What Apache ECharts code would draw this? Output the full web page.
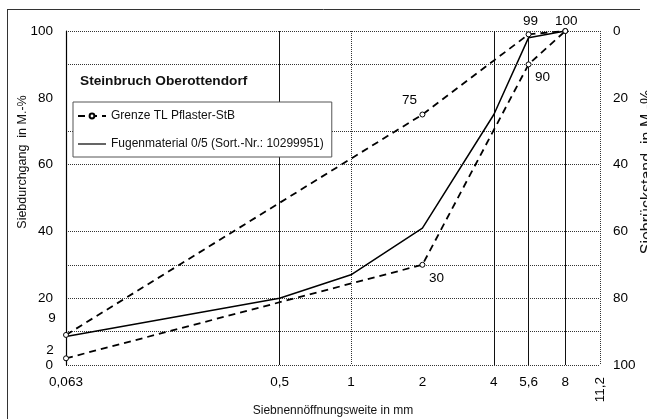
<!DOCTYPE html>
<html><head><meta charset="utf-8">
<script src="https://cdn.jsdelivr.net/npm/echarts@6/dist/echarts.min.js"></script>
<style>html,body{margin:0;padding:0;background:#fff}#c{width:647px;height:419px}</style>
</head><body><div id="c"></div>
<script>
// ---- data ----
const seriesNames = ['Grenze TL Pflaster-StB', 'Fugenmaterial 0/5 (Sort.-Nr.: 10299951)'];
const sieveSizes = [0.063, 0.5, 1, 2, 4, 5.6, 8];
const materialPassing = [8.5, 20, 27, 41, 75, 98, 100];
const limitSizes = [0.063, 2, 5.6, 8];
const upperLimit = [9, 75, 99, 100];
const lowerLimit = [2, 30, 90, 100];
const xLabelValues = [0.063, 0.5, 1, 2, 4, 5.6, 8];
const xLabelTexts = ['0,063', '0,5', '1', '2', '4', '5,6', '8'];
const xEndValues = [11.2];
const xEndTexts = ['11,2'];
const xSolidLines = [0.5, 4, 5.6, 8];
const xDottedLines = [1, 11.2];
const yLabelValues = [0, 20, 40, 60, 80, 100];
const yGridValues = [0, 10, 20, 30, 40, 60, 70, 90, 100];
const lowerLabelShown = [true, true, true, false];

// ---- styles ----
const FONT = "'Liberation Sans', Arial, sans-serif";
const upperOffsets = [[-14, -17], [-13, -14], [2, -13], [1, -10]];
const lowerOffsets = [[-16, -8], [14, 13], [14, 13], [0, 0]];

function nearestText(v, vals, texts) {
  let best = 0, bd = Infinity;
  vals.forEach((x, i) => { const d = Math.abs(Math.log(v) - Math.log(x)); if (d < bd) { bd = d; best = i; } });
  return texts[best];
}

function limitData(ys, offsets, shown) {
  return limitSizes.map((x, i) => ({
    value: [x, ys[i]],
    label: { show: shown ? shown[i] : true, position: 'inside', offset: offsets[i] }
  }));
}

const labelStyle = { color: '#000', fontSize: 13.5, fontFamily: FONT };

const chart = echarts.init(document.getElementById('c'), null, { renderer: 'canvas' });
chart.setOption({
  animation: false,
  backgroundColor: '#fff',
  grid: { left: 66, right: 47, top: 31, bottom: 54, containLabel: false, outerBoundsMode: 'none' },
  title: {
    text: 'Steinbruch Oberottendorf', left: 80, top: 74, padding: 0,
    textStyle: { fontSize: 13.7, fontWeight: 'bold', color: '#111', fontFamily: FONT }
  },
  legend: {
    data: [
      { name: seriesNames[0] },
      { name: seriesNames[1], icon: 'path://M0,0H30V1.3H0Z' }
    ],
    orient: 'vertical', left: 73, top: 102,
    padding: [8, 8, 7, 4], itemWidth: 28, itemHeight: 6, itemGap: 16, symbolKeepAspect: true,
    borderColor: '#555', borderWidth: 1, backgroundColor: '#fff', borderRadius: 0,
    textStyle: { fontSize: 12, color: '#111', fontFamily: FONT }
  },
  xAxis: [
    {
      type: 'log', logBase: 10, min: 0.063, max: 11.2, position: 'bottom',
      axisLine: { show: false }, axisTick: { show: false, customValues: xSolidLines },
      axisLabel: { customValues: xLabelValues, margin: 10, ...labelStyle,
        formatter: v => nearestText(v, xLabelValues, xLabelTexts) },
      splitLine: { show: true, lineStyle: { color: '#111', width: 1, type: 'solid' } },
      name: 'Siebnennöffnungsweite in mm', nameLocation: 'middle', nameGap: 40,
      nameTextStyle: { fontSize: 12, color: '#111', fontFamily: FONT }
    },
    {
      type: 'log', logBase: 10, min: 0.063, max: 11.2, position: 'bottom',
      axisLine: { show: false }, axisTick: { show: false, customValues: xDottedLines },
      axisLabel: { customValues: xEndValues, rotate: 90, margin: 12, showMaxLabel: true, ...labelStyle,
        formatter: v => nearestText(v, xEndValues, xEndTexts) },
      splitLine: { show: true, lineStyle: { color: '#333', width: 1, type: [1, 1] } }
    }
  ],
  yAxis: [
    {
      type: 'value', min: 0, max: 100, position: 'left',
      axisLine: { show: true, lineStyle: { color: '#000', width: 1.2 } },
      axisTick: { show: false, customValues: yGridValues },
      axisLabel: { customValues: yLabelValues, margin: 13, ...labelStyle },
      splitLine: { show: true, lineStyle: { color: '#333', width: 1, type: [1, 1] } },
      name: 'Siebdurchgang  in M.-%', nameLocation: 'middle', nameGap: 37, nameRotate: 90,
      nameMoveOverlap: false,
      nameTextStyle: { fontSize: 12.5, color: '#111', fontFamily: FONT, padding: [0, 0, 0, 72] }
    },
    {
      type: 'value', min: 0, max: 100, inverse: true, position: 'right',
      axisLine: { show: false }, axisTick: { show: false },
      axisLabel: { customValues: yLabelValues, margin: 13, ...labelStyle },
      splitLine: { show: false },
      name: 'Siebrückstand  in M.-%', nameLocation: 'middle', nameGap: 40, nameRotate: 90,
      nameMoveOverlap: false,
      nameTextStyle: { fontSize: 16, color: '#111', fontFamily: FONT, padding: [0, 0, 0, 52] }
    }
  ],
  graphic: [
    { type: 'line', shape: { x1: 7.5, y1: 9.5, x2: 7.5, y2: 419 }, style: { stroke: '#333', lineWidth: 1 } },
    { type: 'line', shape: { x1: 7, y1: 9.5, x2: 640, y2: 9.5 }, style: { stroke: '#333', lineWidth: 1 } }
  ],
  series: [
    {
      name: seriesNames[0], type: 'line', z: 4,
      data: limitData(upperLimit, upperOffsets),
      symbol: 'circle', symbolSize: 5, showAllSymbol: true,
      itemStyle: { color: '#fff', borderColor: '#000', borderWidth: 1 },
      lineStyle: { color: '#000', width: 1.8, type: [7, 5] },
      label: { ...labelStyle, formatter: p => String(p.value[1]) }
    },
    {
      name: seriesNames[0], type: 'line', z: 4,
      data: limitData(lowerLimit, lowerOffsets, lowerLabelShown),
      symbol: 'circle', symbolSize: 5, showAllSymbol: true,
      itemStyle: { color: '#fff', borderColor: '#000', borderWidth: 1 },
      lineStyle: { color: '#000', width: 1.8, type: [7, 5] },
      label: { ...labelStyle, formatter: p => String(p.value[1]) }
    },
    {
      name: seriesNames[1], type: 'line', z: 3,
      data: sieveSizes.map((x, i) => [x, materialPassing[i]]),
      symbol: 'none',
      itemStyle: { color: '#000' },
      lineStyle: { color: '#000', width: 1.5, type: 'solid' }
    }
  ]
});
</script>
</body></html>
